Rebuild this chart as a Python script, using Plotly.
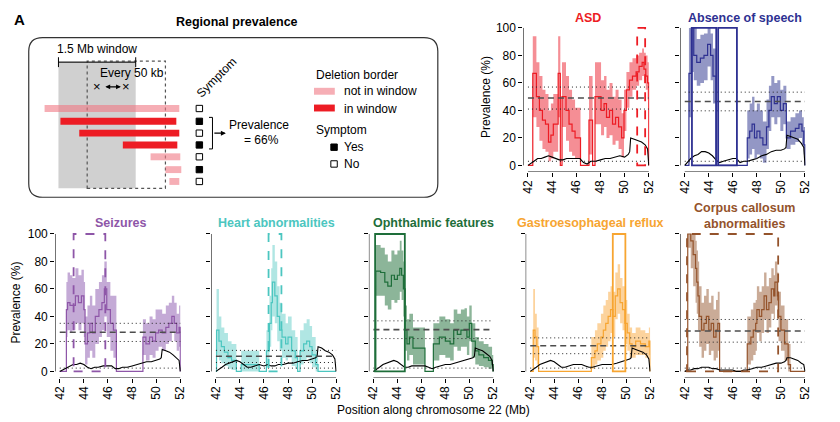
import plotly.graph_objects as go

W, H = 840, 422

# ------------------------------------------------------------------ data
x_ticks = [42, 44, 46, 48, 50, 52]
y_ticks = [0, 20, 40, 60, 80, 100]

# ASD
asd_x = [42.0, 42.4, 42.7, 42.95, 43.2, 43.45, 43.7, 43.9, 44.1, 44.5, 44.68, 44.82, 45.15, 45.4, 45.65, 45.9, 46.35, 47.05, 47.35, 47.55,
         48.05, 48.3, 48.5, 48.75, 49.0, 49.25, 49.5, 49.75, 49.95, 50.15, 50.4, 50.65, 50.95, 51.2, 51.45, 51.6, 51.75, 51.9, 52.0]
asd_y = [0, 67, 50, 40, 33, 30, 17, 22, 30, 67, 0, 50, 40, 30, 25, 20, 0, 33, 0, 50,
         40, 45, 35, 40, 30, 35, 28, 20, 40, 55, 62, 65, 68, 72, 75, 70, 65, 60, 0]
asd_hi = [0, 94, 75, 65, 55, 52, 40, 45, 52, 94, 0, 75, 65, 55, 48, 42, 0, 65, 0, 75,
          62, 65, 55, 60, 50, 55, 48, 38, 55, 68, 75, 78, 80, 82, 85, 82, 80, 75, 0]
asd_lo = [0, 35, 28, 18, 12, 10, 3, 5, 10, 35, 0, 28, 18, 10, 7, 5, 0, 8, 0, 30,
          22, 28, 20, 22, 15, 18, 12, 6, 25, 42, 50, 55, 58, 62, 65, 60, 55, 48, 0]

# Absence of speech
spe_x = [42.0, 42.35, 42.55, 42.75, 43.0, 43.3, 43.6, 43.9, 44.15, 44.35, 44.6, 47.2, 47.4, 47.6, 47.8, 48.0, 48.25, 48.5, 48.8, 49.0,
         49.2, 49.45, 49.7, 49.95, 50.2, 50.45, 50.8, 51.2, 51.5, 51.75, 51.9, 52.0]
spe_y = [0, 67, 100, 80, 75, 78, 80, 88, 80, 65, 0, 20, 25, 30, 20, 25, 20, 15, 28, 40,
         50, 45, 50, 40, 45, 20, 25, 27, 30, 25, 15, 0]
spe_hi = [0, 100, 100, 100, 92, 95, 96, 100, 96, 85, 0, 40, 45, 50, 40, 45, 40, 32, 48, 58,
          65, 60, 62, 55, 58, 32, 35, 38, 40, 35, 28, 0]
spe_lo = [0, 35, 68, 62, 58, 60, 62, 72, 62, 45, 0, 5, 8, 12, 5, 8, 5, 2, 12, 25,
          35, 30, 35, 25, 30, 12, 15, 17, 20, 15, 8, 0]

# Seizures
sei_x = [42.0, 42.55, 42.65, 42.85, 43.05, 43.3, 43.55, 43.8, 44.0, 44.1, 44.3, 44.5, 44.7, 44.95, 45.25, 45.5, 45.7, 45.9, 46.2, 46.45,
         46.7, 48.9, 49.15, 49.45, 49.7, 49.95, 50.2, 50.5, 50.8, 51.05, 51.3, 51.5, 51.7, 51.9, 52.0]
sei_y = [0, 45, 50, 48, 48, 55, 50, 55, 45, 20, 28, 35, 28, 40, 45, 50, 60, 45, 35, 30,
         0, 25, 20, 25, 22, 28, 30, 28, 32, 35, 40, 35, 28, 32, 0]
sei_hi = [0, 65, 72, 70, 68, 75, 70, 74, 65, 40, 48, 55, 48, 60, 65, 70, 80, 65, 55, 55,
          0, 38, 35, 40, 38, 45, 45, 42, 48, 50, 55, 50, 42, 48, 0]
sei_lo = [0, 25, 30, 28, 30, 35, 30, 35, 25, 5, 10, 15, 10, 20, 25, 30, 40, 25, 15, 10,
          0, 12, 8, 12, 10, 15, 18, 15, 20, 22, 28, 22, 15, 18, 0]

# Heart abnormalities
hea_x = [42.0, 42.05, 42.25, 42.45, 42.7, 43.0, 43.3, 43.7, 44.1, 45.6, 46.2, 46.45, 46.6, 46.7, 46.9, 47.1, 47.3, 47.5, 47.8, 48.0,
         48.3, 48.6, 48.8, 49.0, 49.3, 49.55, 49.8, 50.0, 50.3, 50.5, 52.0]
hea_y = [0, 30, 22, 18, 14, 10, 8, 0, 5, 0, 15, 35, 50, 65, 55, 40, 30, 25, 20, 25,
         15, 10, 0, 15, 20, 22, 18, 12, 5, 0, 0]
hea_hi = [0, 60, 40, 32, 28, 22, 20, 0, 15, 0, 30, 55, 75, 92, 80, 62, 50, 42, 35, 40,
          30, 25, 0, 30, 35, 38, 33, 25, 15, 0, 0]
hea_lo = [0, 12, 8, 6, 4, 2, 1, 0, 0, 0, 3, 18, 30, 40, 35, 22, 15, 10, 8, 10,
          4, 2, 0, 5, 8, 10, 6, 3, 0, 0, 0]

# Ophthalmic features
oph_x = [42.0, 42.2, 42.6, 42.95, 43.2, 43.5, 43.75, 44.0, 44.2, 44.35, 44.5, 44.65, 44.8, 45.0, 45.3, 46.3, 47.0, 47.5, 48.0, 48.4,
         48.7, 49.0, 49.3, 49.6, 49.8, 50.0, 50.2, 50.5, 50.8, 51.2, 51.6, 51.9, 52.0]
oph_y = [0, 73, 72, 65, 62, 70, 67, 70, 75, 70, 60, 30, 20, 25, 17, 0, 20, 25, 22, 20,
         30, 27, 30, 30, 25, 35, 22, 15, 12, 10, 8, 5, 0]
oph_hi = [0, 92, 90, 85, 80, 88, 85, 88, 95, 88, 80, 48, 38, 42, 32, 0, 35, 40, 38, 35,
          45, 42, 45, 46, 40, 48, 35, 25, 22, 20, 18, 12, 0]
oph_lo = [0, 55, 55, 48, 45, 52, 50, 52, 58, 52, 40, 15, 8, 12, 5, 0, 8, 12, 10, 8,
          18, 15, 18, 18, 12, 22, 10, 5, 4, 3, 2, 0, 0]

# Gastroesophageal reflux
gas_x = [42.0, 42.25, 42.4, 42.55, 42.7, 47.1, 47.4, 47.6, 47.9, 48.1, 48.3, 48.5, 48.7, 48.9, 49.1, 49.3, 49.5, 49.7, 49.9, 50.1,
         50.3, 50.5, 50.8, 51.2, 51.6, 51.9, 52.0]
gas_y = [0, 30, 25, 18, 0, 10, 15, 20, 25, 30, 35, 40, 45, 40, 55, 60, 50, 45, 35, 28,
         20, 18, 22, 20, 18, 22, 0]
gas_hi = [0, 60, 42, 32, 0, 25, 30, 35, 42, 48, 52, 58, 62, 58, 72, 78, 68, 62, 52, 42,
          32, 28, 32, 30, 28, 32, 0]
gas_lo = [0, 10, 8, 5, 0, 2, 5, 8, 10, 15, 18, 22, 28, 25, 38, 42, 35, 30, 20, 15,
          10, 10, 12, 12, 10, 12, 0]

# Corpus callosum abnormalities
cor_x = [42.0, 42.25, 42.5, 42.7, 42.9, 43.0, 43.1, 43.2, 43.4, 43.6, 43.8, 44.0, 44.2, 44.4, 44.6, 44.75, 44.9, 47.2, 47.5, 47.7,
         47.9, 48.0, 48.2, 48.4, 48.6, 48.8, 49.0, 49.2, 49.4, 49.5, 49.7, 49.8, 50.0, 50.3, 50.6, 50.8, 52.0]
cor_y = [0, 100, 95, 85, 75, 65, 55, 40, 30, 35, 40, 30, 35, 25, 30, 35, 0, 20, 25, 30,
         35, 45, 40, 45, 55, 45, 50, 60, 55, 65, 55, 40, 30, 20, 5, 0, 0]
cor_hi = [0, 100, 100, 100, 95, 88, 80, 62, 50, 55, 60, 50, 55, 45, 52, 58, 0, 40, 45, 50,
          52, 62, 58, 62, 72, 62, 68, 75, 70, 80, 72, 58, 48, 38, 20, 0, 0]
cor_lo = [0, 90, 75, 62, 50, 42, 30, 18, 10, 15, 20, 12, 15, 8, 10, 15, 0, 5, 8, 12,
          15, 28, 22, 28, 38, 28, 32, 42, 38, 48, 38, 22, 15, 8, 0, 0, 0]

# deletion coverage (black lines), shared positions
cov_x = [42.0, 42.2, 42.5, 42.8, 43.1, 43.4, 43.7, 44.0, 44.3, 44.6, 44.9, 45.2, 45.6, 46.0, 46.3, 46.6, 46.9, 47.2, 47.6, 48.0,
         48.4, 48.8, 49.2, 49.6, 50.0, 50.3, 50.42, 50.5, 50.8, 51.1, 51.4, 51.7, 51.9, 52.0]
asd_cov = [0, 1, 3, 5, 5, 6, 7, 6, 5, 4, 4, 5, 5, 5, 5, 2, 1, 3, 3, 4, 5, 5, 6, 7, 6, 8, 10, 20, 19, 18, 17, 15, 12, 0]
spe_cov = [0, 2, 5, 7, 8, 10, 10, 9, 7, 4, 2, 3, 4, 5, 5, 2, 3, 3, 4, 5, 7, 8, 10, 11, 11, 12, 13, 22, 21, 20, 19, 16, 13, 0]
sei_cov = [0, 1, 2, 4, 5, 5, 6, 5, 3, 2, 3, 3, 4, 4, 4, 2, 2, 3, 3, 4, 5, 6, 7, 7, 8, 9, 10, 16, 15, 14, 12, 10, 8, 0]
hea_cov = [0, 1, 3, 5, 6, 7, 8, 7, 5, 3, 3, 4, 5, 4, 5, 4, 4, 5, 5, 6, 6, 7, 8, 8, 9, 10, 11, 18, 17, 15, 14, 12, 9, 0]
oph_cov = [0, 1, 3, 5, 6, 7, 8, 7, 5, 3, 3, 4, 4, 4, 4, 3, 2, 3, 4, 5, 5, 6, 7, 8, 9, 10, 11, 17, 16, 15, 13, 11, 8, 0]
gas_cov = [0, 1, 3, 5, 6, 7, 8, 7, 5, 3, 3, 4, 5, 5, 5, 4, 3, 3, 4, 5, 5, 5, 6, 7, 8, 9, 10, 17, 16, 15, 14, 12, 9, 0]
cor_cov = [0, 1, 1, 2, 2, 3, 3, 3, 2, 2, 1, 1, 1, 1, 0, 0, 1, 1, 2, 3, 3, 4, 5, 6, 6, 7, 8, 10, 10, 9, 8, 6, 5, 0]

# overall prevalence (dashed), its interval (dotted) and null level (dotted)
overall = [49, 46.5, 28.5, 11, 30.4, 18.7, 29.4]
overall_lo = [41, 39.7, 21.8, 6.5, 23.9, 12.9, 21.3]
overall_hi = [57, 53.3, 35, 15.3, 36.8, 24.4, 37.8]
null_level = [3, 3, 2.4, 2.4, 2.4, 2.4, 2.4]

# significant windows (Mb)
asd_win = [(51.04, 51.70)]
spe_win = [(42.6, 44.62), (44.78, 46.34)]
sei_win = [(43.15, 45.78)]
hea_win = [(46.38, 47.45)]
oph_win = [(42.14, 44.62)]
gas_win = [(48.89, 49.94)]
cor_win = [(42.19, 49.77)]

titles = ["ASD", "Absence of speech", "Seizures", "Heart abnormalities",
          "Ophthalmic features", "Gastroesophageal reflux", "Corpus callosum<br>abnormalities"]

series = [
    (asd_x, asd_y, asd_lo, asd_hi, asd_cov, asd_win),
    (spe_x, spe_y, spe_lo, spe_hi, spe_cov, spe_win),
    (sei_x, sei_y, sei_lo, sei_hi, sei_cov, sei_win),
    (hea_x, hea_y, hea_lo, hea_hi, hea_cov, hea_win),
    (oph_x, oph_y, oph_lo, oph_hi, oph_cov, oph_win),
    (gas_x, gas_y, gas_lo, gas_hi, gas_cov, gas_win),
    (cor_x, cor_y, cor_lo, cor_hi, cor_cov, cor_win),
]
for s in series:
    assert len(s[0]) == len(s[1]) == len(s[2]) == len(s[3])
    assert len(s[4]) == len(cov_x)

# ------------------------------------------------------------------ styles
line_cols = ["#ED1C24", "#2E3192", "#8E56A8", "#4CC6C0", "#1E6E3A", "#F7A531", "#94532B"]
fill_cols = ["rgba(236,50,62,0.55)", "rgba(58,66,150,0.55)", "rgba(148,100,180,0.55)",
             "rgba(80,200,192,0.45)", "rgba(46,120,70,0.55)", "rgba(250,168,60,0.5)",
             "rgba(150,88,48,0.5)"]
win_dash = ["dash", "solid", "dash", "dash", "solid", "solid", "dash"]
# panel pixel geometry: (x of 42, x of 52, y of 100, y of 0, show y labels, title y)
panels = [
    (531.0, 653.0, 23.3, 162.7, True, 13),
    (689.3, 810.7, 23.3, 162.7, False, 13),
    (58.3, 180.0, 232.3, 371.7, True, 221),
    (216.0, 337.3, 232.3, 371.7, False, 221),
    (375.0, 496.0, 232.3, 371.7, False, 221),
    (533.3, 654.3, 232.3, 371.7, False, 221),
    (689.3, 810.7, 232.3, 371.7, False, 214),
]
FONT = "Liberation Sans, Arial, Helvetica, sans-serif"
XR = [41.62, 52.05]
YR = [-4.5, 101.5]


def PX(x):
    return x / W


def PY(y):
    return 1 - y / H


def steps(xs, vs):
    ox, oy = [], []
    for j in range(len(xs) - 1):
        ox += [xs[j], xs[j + 1]]
        oy += [vs[j], vs[j]]
    ox.append(xs[-1])
    oy.append(vs[-1])
    return ox, oy


fig = go.Figure()
shapes = []
annotations = []
layout = {}

for i, (geom, ser) in enumerate(zip(panels, series)):
    p42, p52, p100, p0, ylab, ty = geom
    xs, ys, lo, hi, cov, wins = ser
    k = "" if i == 0 else str(i + 1)
    xa, ya = "x" + k, "y" + k
    s = (p52 - p42) / 10.0
    t = (p0 - p100) / 100.0
    xdom = [PX(p42 + (XR[0] - 42) * s), PX(p52 + (XR[1] - 52) * s)]
    ydom = [PY(p0 - YR[0] * t), PY(p100 - (YR[1] - 100) * t)]
    tf = dict(family=FONT, size=12, color="black")
    layout["xaxis" + k] = dict(domain=xdom, range=XR, anchor=ya, tickvals=x_ticks,
                               tickangle=-90, ticks="outside", ticklen=4, tickwidth=1,
                               tickcolor="black", showgrid=False, zeroline=False,
                               showline=False, tickfont=tf, ticklabelstandoff=-1)
    layout["yaxis" + k] = dict(domain=ydom, range=YR, anchor=xa, tickvals=y_ticks,
                               showticklabels=ylab, ticks="outside", ticklen=4, tickwidth=1,
                               tickcolor="black", showgrid=False, zeroline=False,
                               showline=False, tickfont=tf)
    # ribbon (step polygon)
    ux, uy = steps(xs, hi)
    lx, ly = steps(xs, lo)
    fig.add_trace(go.Scatter(x=ux + lx[::-1], y=uy + ly[::-1], xaxis=xa, yaxis=ya,
                             mode="lines", fill="toself", fillcolor=fill_cols[i],
                             line=dict(width=0, simplify=False), showlegend=False,
                             hoverinfo="skip"))
    # horizontal reference lines
    for val, dash, col, wd in [(overall[i], "6px,4px", "#4d4d4d", 1.6),
                               (overall_lo[i], "1px,3px", "#222", 1.0),
                               (overall_hi[i], "1px,3px", "#222", 1.0),
                               (null_level[i], "1px,3px", "#222", 1.0)]:
        shapes.append(dict(type="line", xref=xa, yref=ya, x0=42, x1=52, y0=val, y1=val,
                           line=dict(color=col, width=wd, dash=dash), layer="above"))
    # prevalence step line
    fig.add_trace(go.Scatter(x=xs, y=ys, xaxis=xa, yaxis=ya, mode="lines",
                             line=dict(color=line_cols[i], width=1.2, shape="hv", simplify=False),
                             showlegend=False))
    # coverage
    fig.add_trace(go.Scatter(x=cov_x, y=cov, xaxis=xa, yaxis=ya, mode="lines",
                             line=dict(color="black", width=1.1), showlegend=False))
    # windows
    for (w0, w1) in wins:
        shapes.append(dict(type="rect", xref=xa, yref=ya, x0=w0, x1=w1, y0=0, y1=100,
                           line=dict(color=line_cols[i], width=1.8, dash=win_dash[i]),
                           fillcolor="rgba(0,0,0,0)", layer="above"))
    # axis lines (R style)
    shapes.append(dict(type="line", xref=xa, yref=ya, x0=XR[0], x1=XR[0], y0=0, y1=100,
                       line=dict(color="black", width=1)))
    shapes.append(dict(type="line", xref=xa, yref=ya, x0=42, x1=52, y0=YR[0], y1=YR[0],
                       line=dict(color="black", width=1)))
    # title
    annotations.append(dict(x=PX((p42 + p52) / 2), y=PY(ty), xref="paper", yref="paper",
                            text=titles[i], showarrow=False, xanchor="center", yanchor="middle",
                            font=dict(family=FONT, size=12.5, color=line_cols[i], weight="bold")))

# y axis titles
for (xx, yy) in [(488, 93), (14, 302)]:
    annotations.append(dict(x=PX(xx), y=PY(yy), xref="paper", yref="paper", text="Prevalence (%)",
                            textangle=-90, showarrow=False, xanchor="center", yanchor="middle",
                            font=dict(family=FONT, size=12, color="black")))
annotations.append(dict(x=PX(436), y=PY(411), xref="paper", yref="paper",
                        text="Position along chromosome 22 (Mb)", showarrow=False,
                        xanchor="center", yanchor="middle",
                        font=dict(family=FONT, size=12, color="black")))

# ------------------------------------------------------------------ schematic
def txt(x, y, text, size=12, anchor="center", bold=False, angle=0):
    f = dict(family=FONT, size=size, color="black")
    if bold:
        f["weight"] = "bold"
    annotations.append(dict(x=PX(x), y=PY(y), xref="paper", yref="paper", text=text,
                            showarrow=False, xanchor=anchor, yanchor="middle", font=f,
                            textangle=angle))


def rect(x0, x1, y0, y1, fill, line=None, dash="solid", lw=1):
    shapes.append(dict(type="rect", xref="paper", yref="paper", x0=PX(x0), x1=PX(x1),
                       y0=PY(y1), y1=PY(y0), fillcolor=fill,
                       line=dict(color=line if line else "rgba(0,0,0,0)", width=lw if line else 0, dash=dash)))


def hline(x0, x1, y0, y1, col="black", lw=1, dash="solid"):
    shapes.append(dict(type="line", xref="paper", yref="paper", x0=PX(x0), x1=PX(x1),
                       y0=PY(y0), y1=PY(y1), line=dict(color=col, width=lw, dash=dash)))


txt(18, 15, "A", size=15, bold=True)
txt(237, 17, "Regional prevalence", size=12.5, bold=True)

# rounded box
bx0, bx1, by0, by1, r = 27, 440, 33, 195, 14
X0, X1, Yt, Yb = PX(bx0), PX(bx1), PY(by0), PY(by1)
rx, ry = r / W, r / H
path = (f"M {X0+rx},{Yt} L {X1-rx},{Yt} Q {X1},{Yt} {X1},{Yt-ry} L {X1},{Yb+ry} "
        f"Q {X1},{Yb} {X1-rx},{Yb} L {X0+rx},{Yb} Q {X0},{Yb} {X0},{Yb+ry} "
        f"L {X0},{Yt-ry} Q {X0},{Yt} {X0+rx},{Yt} Z")
shapes.append(dict(type="path", xref="paper", yref="paper", path=path,
                   line=dict(color="#333", width=1.2)))

# window shading
rect(57, 135, 57, 186, "rgba(150,150,150,0.45)")
rect(86, 165, 57, 186, "rgba(0,0,0,0)", line="#555", dash="3px,3px", lw=1.2)
# 1.5 Mb bracket
hline(57, 135, 58, 58)
hline(57, 57, 53, 63)
hline(135, 135, 53, 63)
txt(96, 45, "1.5 Mb window")
txt(97, 69, "Every 50 kb", anchor="left")
txt(96, 83, "×", size=13)
txt(125, 83, "×", size=13)
annotations.append(dict(x=PX(120), y=PY(83), xref="paper", yref="paper", ax=-17, ay=0,
                        text="", showarrow=True, arrowhead=2, arrowside="end+start",
                        arrowsize=0.8, arrowwidth=1.2, arrowcolor="black"))

pink, red = "rgba(240,120,132,0.6)", "#ED1C24"
bars = [(43, 179, 105, pink), (59, 176, 118, red), (78, 179, 130, red), (122, 177, 142, red),
        (150, 180, 154, pink), (165, 181, 167, pink), (169, 179, 179, pink)]
sym = [0, 1, 0, 1, 0, 1, 0]
for (a, b, yc, c), sv in zip(bars, sym):
    rect(a, b, yc - 3.5, yc + 3.5, c)
    rect(196, 202.5, yc - 3.2, yc + 3.2, "black" if sv else "white", line="black", lw=1)

txt(217, 73, "Symptom", angle=-45)
# bracket + arrow
shapes.append(dict(type="path", xref="paper", yref="paper",
                   path=f"M {PX(209)},{PY(114)} L {PX(212.5)},{PY(114)} L {PX(212.5)},{PY(146)} L {PX(209)},{PY(146)}",
                   line=dict(color="black", width=1)))
annotations.append(dict(x=PX(226), y=PY(130), xref="paper", yref="paper", ax=-13, ay=0,
                        text="", showarrow=True, arrowhead=2, arrowsize=0.9, arrowwidth=1.1,
                        arrowcolor="black"))
txt(259, 122, "Prevalence")
txt(262, 137, "= 66%")

# legend
txt(315, 71, "Deletion border", anchor="left")
rect(315, 336, 84, 91, pink)
txt(343, 87, "not in window", anchor="left")
rect(315, 336, 101, 108, red)
txt(343, 105, "in window", anchor="left")
txt(315, 127, "Symptom", anchor="left")
rect(332, 338.5, 141, 147.5, "black", line="black")
txt(343, 144, "Yes", anchor="left")
rect(332, 338.5, 158, 164.5, "white", line="black")
txt(343, 161, "No", anchor="left")

fig.update_layout(width=W, height=H, margin=dict(l=0, r=0, t=0, b=0), autosize=False,
                  paper_bgcolor="white", plot_bgcolor="rgba(0,0,0,0)",
                  shapes=shapes, annotations=annotations, showlegend=False,
                  font=dict(family=FONT, size=12, color="black"), **layout)
fig.write_html("out.html", config={"displayModeBar": False},
               post_script="document.body.style.margin='0px';")
